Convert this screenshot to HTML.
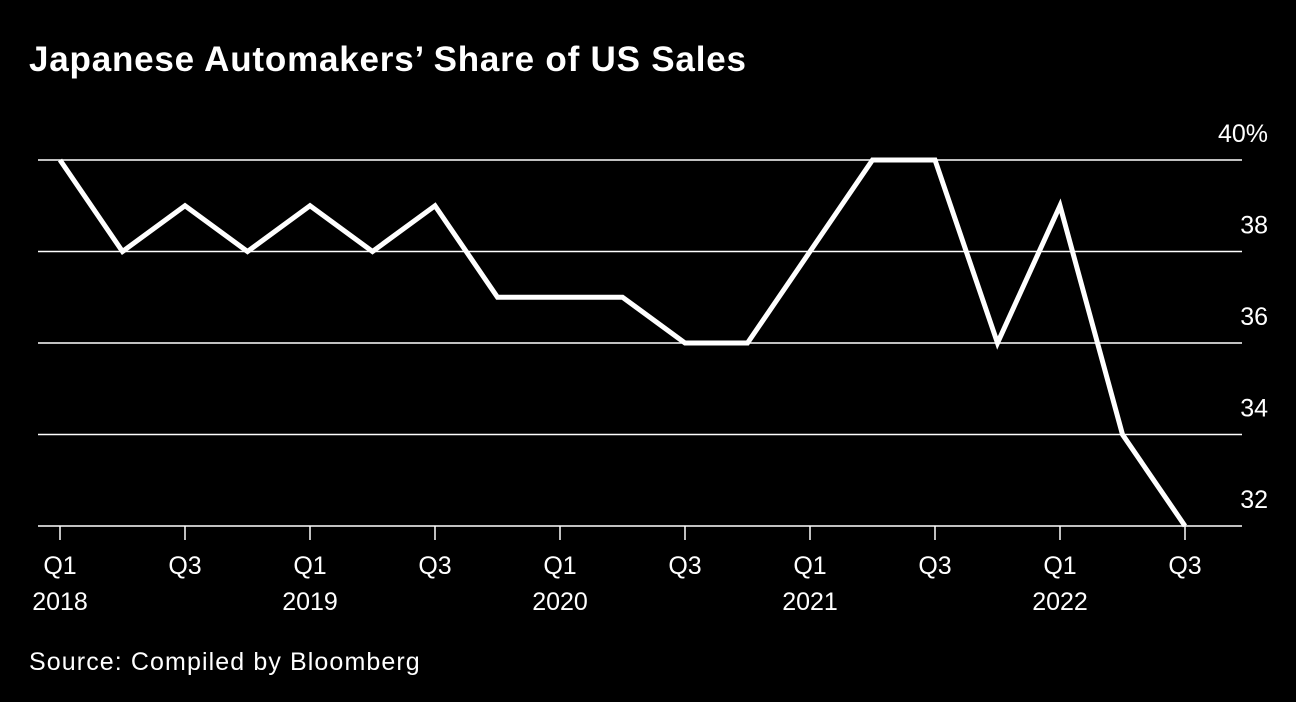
<!DOCTYPE html>
<html><head><meta charset="utf-8"><style>
html,body{margin:0;padding:0;background:#000;}
body{width:1296px;height:702px;overflow:hidden;font-family:"Liberation Sans",sans-serif;color:#fff;position:relative;}
#title{position:absolute;left:29px;top:40px;font-size:35px;font-weight:bold;letter-spacing:0.8px;white-space:nowrap;}
#source{position:absolute;left:29px;top:648px;font-size:25px;letter-spacing:1.1px;white-space:nowrap;}
svg{position:absolute;left:0;top:0;}
</style></head><body>
<div id="title">Japanese Automakers’ Share of US Sales</div>
<svg id="chart" width="1296" height="702"></svg>
<div id="source">Source: Compiled by Bloomberg</div>
<script>
const quarters=["Q1","Q2","Q3","Q4","Q1","Q2","Q3","Q4","Q1","Q2","Q3","Q4","Q1","Q2","Q3","Q4","Q1","Q2","Q3"];
const years=["2018","","","","2019","","","","2020","","","","2021","","","","2022","",""];
const shares=[40,38,39,38,39,38,39,37,37,37,36,36,38,40,40,36,39,34,32];
const yTicks=[40,38,36,34,32];
const yTickLabels=["40%","38","36","34","32"];
const NS="http://www.w3.org/2000/svg";
const svg=document.getElementById('chart');
const x=i=>60+i*62.5;
const y=v=>160+(40-v)*45.75;
function mk(t,a){const e=document.createElementNS(NS,t);for(const k in a)e.setAttribute(k,a[k]);svg.appendChild(e);return e;}
yTicks.forEach((v,i)=>{
  const l=mk('line',{x1:38,x2:1242,y1:y(v),y2:y(v),stroke:'#fff','stroke-width':1.5});
  
  
  const t=mk('text',{x:1268,y:y(v)-18,'text-anchor':'end','font-size':25,fill:'#fff','font-family':'Liberation Sans, sans-serif'});
  t.textContent=yTickLabels[i];
  
  
});
quarters.forEach((q,i)=>{
  if(i%2)return;
  const tk=mk('line',{x1:x(i),x2:x(i),y1:y(32),y2:y(32)+14,stroke:'#fff','stroke-width':1.5});
  
  
  const t=mk('text',{x:x(i),y:574,'text-anchor':'middle','font-size':25,fill:'#fff','font-family':'Liberation Sans, sans-serif'});
  t.textContent=q;
  
  
  if(years[i]){
    const t2=mk('text',{x:x(i),y:610,'text-anchor':'middle','font-size':25,fill:'#fff','font-family':'Liberation Sans, sans-serif'});
    t2.textContent=years[i];
    
    
  }
});
const p=mk('polyline',{points:shares.map((v,i)=>x(i)+','+y(v)).join(' '),fill:'none',stroke:'#fff','stroke-width':5,'stroke-linejoin':'miter'});


</script>
</body></html>
